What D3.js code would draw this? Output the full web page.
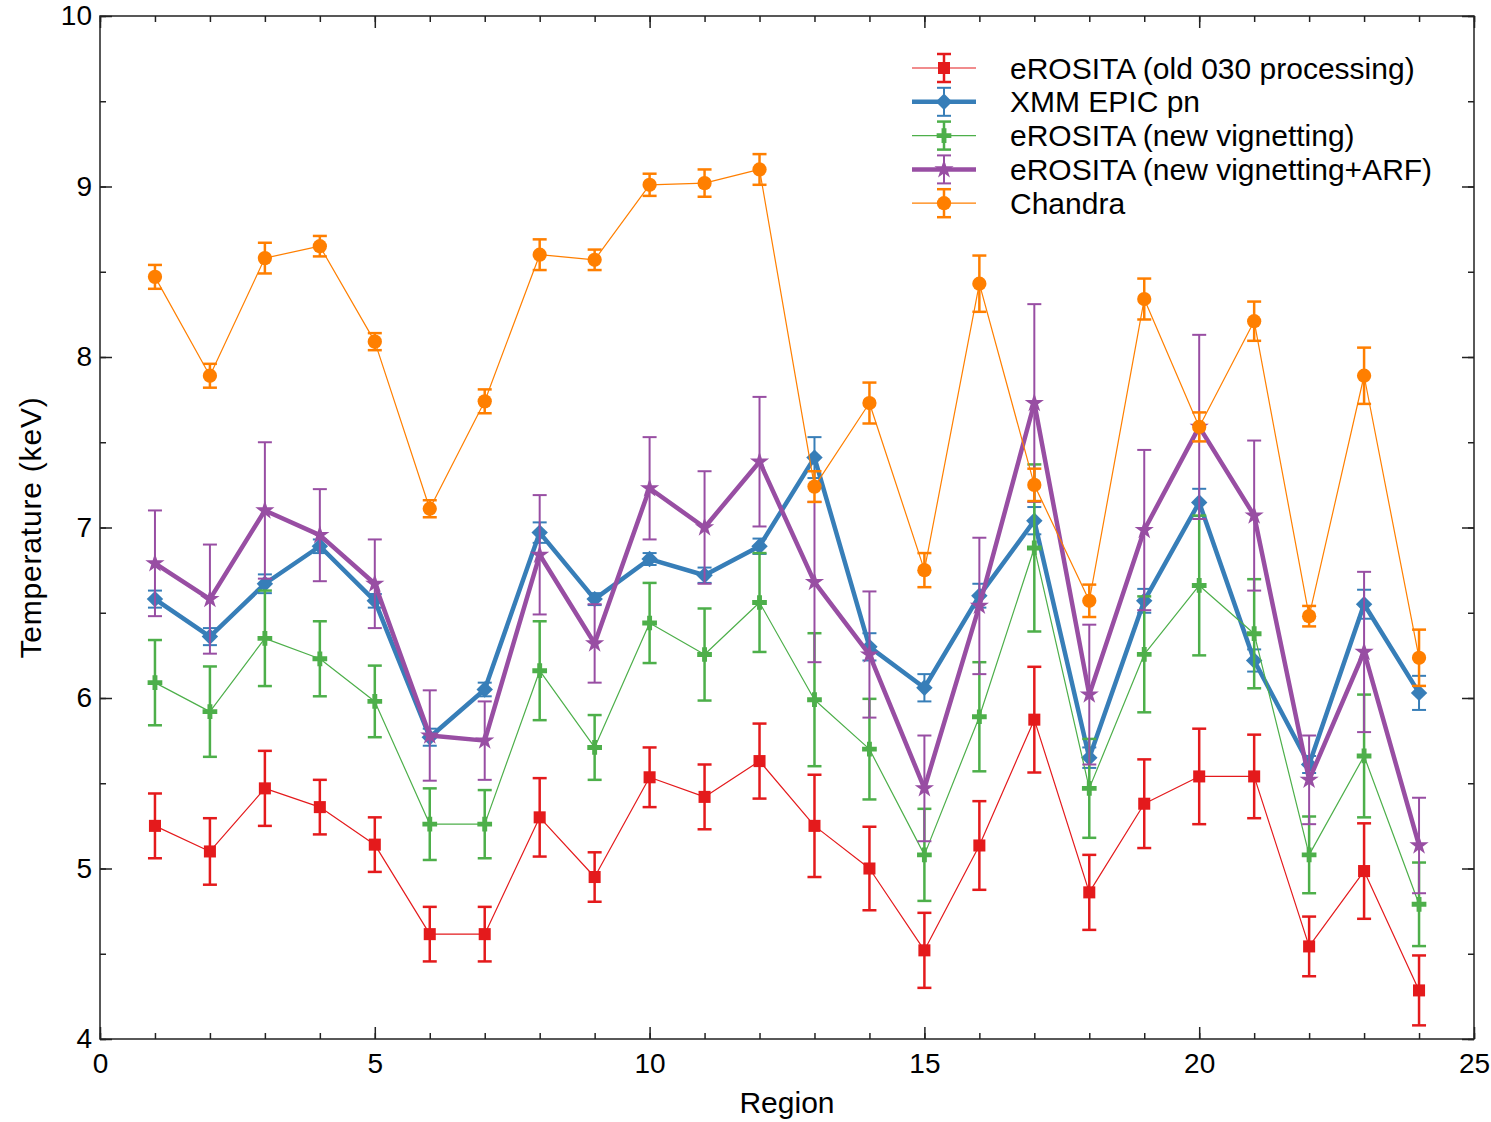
<!DOCTYPE html>
<html>
<head>
<meta charset="utf-8">
<script src="https://cdn.jsdelivr.net/npm/d3@7"></script>
<style>
  body { margin: 0; background: #fff; }
  svg { display: block; font-family: "Liberation Sans", Arial, sans-serif; }
</style>
</head>
<body>
<svg id="chart" width="1491" height="1122"></svg>
<script>
// region numbers
const regions = [1, 2, 3, 4, 5, 6, 7, 8, 9, 10, 11, 12, 13, 14, 15, 16, 17, 18, 19, 20, 21, 22, 23, 24]

// eROSITA (old 030 processing)
const oldT = [5.25, 5.10, 5.47, 5.36, 5.14, 4.615, 4.615, 5.30, 4.95, 5.535, 5.42, 5.63, 5.25, 5.00, 4.52, 5.135, 5.873, 4.86, 5.38, 5.54, 5.54, 4.543, 4.985, 4.285]
const oldErr = [0.19, 0.195, 0.22, 0.16, 0.16, 0.16, 0.16, 0.23, 0.145, 0.175, 0.19, 0.22, 0.30, 0.245, 0.22, 0.26, 0.31, 0.22, 0.26, 0.28, 0.245, 0.175, 0.28, 0.205]

// XMM EPIC pn
const xmmT = [6.58, 6.36, 6.67, 6.89, 6.57, 5.77, 6.05, 6.97, 6.58, 6.815, 6.72, 6.89, 7.41, 6.30, 6.06, 6.60, 7.04, 5.65, 6.57, 7.147, 6.22, 5.61, 6.55, 6.03]
const xmmErr = [0.05, 0.05, 0.055, 0.04, 0.04, 0.05, 0.04, 0.06, 0.035, 0.035, 0.045, 0.045, 0.12, 0.08, 0.08, 0.07, 0.08, 0.06, 0.07, 0.08, 0.065, 0.05, 0.085, 0.1]

// eROSITA (new vignetting)
const newT = [6.09, 5.92, 6.35, 6.23, 5.98, 5.26, 5.26, 6.16, 5.71, 6.44, 6.255, 6.56, 5.99, 5.70, 5.08, 5.89, 6.88, 5.47, 6.256, 6.66, 6.377, 5.08, 5.66, 4.79]
const newErr = [0.25, 0.265, 0.28, 0.22, 0.21, 0.21, 0.2, 0.29, 0.19, 0.235, 0.27, 0.29, 0.39, 0.295, 0.27, 0.32, 0.49, 0.29, 0.34, 0.41, 0.32, 0.225, 0.36, 0.245]

// eROSITA (new vignetting+ARF)
const arfT = [6.79, 6.58, 7.10, 6.955, 6.67, 5.78, 5.75, 6.84, 6.32, 7.23, 7.0, 7.386, 6.68, 6.255, 5.47, 6.54, 7.73, 6.02, 6.985, 7.59, 7.07, 5.52, 6.27, 5.135]
const arfErr = [0.31, 0.32, 0.40, 0.27, 0.26, 0.265, 0.23, 0.35, 0.23, 0.3, 0.33, 0.38, 0.47, 0.37, 0.31, 0.4, 0.58, 0.41, 0.47, 0.54, 0.44, 0.26, 0.47, 0.28]

// Chandra
const chandraT = [8.47, 7.89, 8.58, 8.65, 8.09, 7.11, 7.74, 8.60, 8.57, 9.01, 9.02, 9.10, 7.24, 7.73, 6.75, 8.43, 7.25, 6.57, 8.34, 7.59, 8.21, 6.48, 7.89, 6.236]
const chandraErr = [0.07, 0.07, 0.09, 0.06, 0.05, 0.05, 0.07, 0.09, 0.06, 0.065, 0.08, 0.09, 0.09, 0.12, 0.10, 0.165, 0.095, 0.095, 0.12, 0.085, 0.115, 0.06, 0.165, 0.165]

const xTicks = [0, 5, 10, 15, 20, 25]
const yTicks = [4, 5, 6, 7, 8, 9, 10]

let series = [
  { name: 'eROSITA (old 030 processing)', t: oldT, err: oldErr, color: '#e41a1c', lw: 1.2, ew: 2.5, symbol: d3.symbolSquare, size: 145, rot: 0 },
  { name: 'XMM EPIC pn', t: xmmT, err: xmmErr, color: '#377eb8', lw: 4.5, ew: 2, symbol: d3.symbolSquare, size: 135, rot: 45 },
  { name: 'eROSITA (new vignetting)', t: newT, err: newErr, color: '#4daf4a', lw: 1.2, ew: 2.5, symbol: d3.symbolCross, size: 120, rot: 0 },
  { name: 'eROSITA (new vignetting+ARF)', t: arfT, err: arfErr, color: '#984ea3', lw: 4.5, ew: 2, symbol: d3.symbolStar, size: 115, rot: 0 },
  { name: 'Chandra', t: chandraT, err: chandraErr, color: '#ff7f00', lw: 1.2, ew: 2.5, symbol: d3.symbolCircle, size: 160, rot: 0 }
]

let margin = { left: 100, right: 17, top: 16, bottom: 83 }
let width = 1491
let height = 1122

let svg = d3.select('#chart')

let x = d3.scaleLinear().domain([0, 25]).range([margin.left, width - margin.right])
let y = d3.scaleLinear().domain([4, 10]).range([height - margin.bottom, margin.top])

let capHalf = 7

// ticks on all four sides, pointing inward
function addAxis(axis, transform, labels) {
  let g = svg.append('g').attr('transform', transform).call(axis)
  g.select('.domain').remove()
  g.selectAll('.tick line').attr('stroke', '#222').attr('stroke-width', 1.5)
  g.selectAll('text').attr('font-size', 28).attr('fill', '#000')
  if (!labels) g.selectAll('text').remove()
  return g
}

let minorX = d3.range(0, 26, 1)
let minorY = d3.range(4, 10.01, 0.5)

addAxis(d3.axisBottom(x).tickValues(minorX).tickSize(-6).tickFormat(''), `translate(0,${y(4)})`, false)
addAxis(d3.axisTop(x).tickValues(minorX).tickSize(-6).tickFormat(''), `translate(0,${y(10)})`, false)
addAxis(d3.axisLeft(y).tickValues(minorY).tickSize(-6).tickFormat(''), `translate(${x(0)},0)`, false)
addAxis(d3.axisRight(y).tickValues(minorY).tickSize(-6).tickFormat(''), `translate(${x(25)},0)`, false)

addAxis(d3.axisBottom(x).tickValues(xTicks).tickSize(-12).tickPadding(14).tickFormat(d3.format('d')), `translate(0,${y(4)})`, true)
addAxis(d3.axisTop(x).tickValues(xTicks).tickSize(-12), `translate(0,${y(10)})`, false)
addAxis(d3.axisLeft(y).tickValues(yTicks).tickSize(-12).tickPadding(8).tickFormat(d3.format('d')), `translate(${x(0)},0)`, true)
addAxis(d3.axisRight(y).tickValues(yTicks).tickSize(-12), `translate(${x(25)},0)`, false)

svg.append('rect')
  .attr('x', x(0)).attr('y', y(10))
  .attr('width', x(25) - x(0)).attr('height', y(4) - y(10))
  .attr('fill', 'none').attr('stroke', '#222').attr('stroke-width', 1.5)

svg.append('text')
  .attr('x', (x(0) + x(25)) / 2).attr('y', 1113)
  .attr('text-anchor', 'middle').attr('font-size', 30)
  .text('Region')

svg.append('text')
  .attr('transform', `translate(41,${(y(4) + y(10)) / 2}) rotate(-90)`)
  .attr('text-anchor', 'middle').attr('font-size', 30).attr('letter-spacing', 0.8)
  .text('Temperature (keV)')

let line = d3.line().x(d => x(d.r)).y(d => y(d.t))

series.forEach(s => {
  let pts = regions.map((r, i) => ({ r: r, t: s.t[i], e: s.err[i] }))
  let g = svg.append('g').attr('class', 'series')

  g.append('path')
    .datum(pts)
    .attr('d', line)
    .attr('fill', 'none')
    .attr('stroke', s.color)
    .attr('stroke-width', s.lw)
    .attr('stroke-linejoin', 'round')

  let eb = g.append('g').selectAll('g').data(pts).enter().append('g')
    .attr('stroke', s.color).attr('stroke-width', s.ew)
  eb.append('line')
    .attr('x1', d => x(d.r)).attr('x2', d => x(d.r))
    .attr('y1', d => y(d.t - d.e)).attr('y2', d => y(d.t + d.e))
  eb.append('line')
    .attr('x1', d => x(d.r) - capHalf).attr('x2', d => x(d.r) + capHalf)
    .attr('y1', d => y(d.t + d.e)).attr('y2', d => y(d.t + d.e))
  eb.append('line')
    .attr('x1', d => x(d.r) - capHalf).attr('x2', d => x(d.r) + capHalf)
    .attr('y1', d => y(d.t - d.e)).attr('y2', d => y(d.t - d.e))

  g.append('g').selectAll('path').data(pts).enter().append('path')
    .attr('d', d3.symbol().type(s.symbol).size(s.size))
    .attr('transform', d => `translate(${x(d.r)},${y(d.t)}) rotate(${s.rot})`)
    .attr('fill', s.color)
})

// legend
let legend = svg.append('g').attr('class', 'legend')
series.forEach((s, i) => {
  let ly = 68 + i * 33.8
  let row = legend.append('g').attr('transform', `translate(0,${ly})`)
  row.append('line').attr('x1', 912).attr('x2', 976).attr('y1', 0).attr('y2', 0)
    .attr('stroke', s.color).attr('stroke-width', s.lw)
  row.append('line').attr('x1', 944).attr('x2', 944).attr('y1', -14).attr('y2', 14)
    .attr('stroke', s.color).attr('stroke-width', s.ew)
  row.append('line').attr('x1', 944 - capHalf).attr('x2', 944 + capHalf).attr('y1', -14).attr('y2', -14)
    .attr('stroke', s.color).attr('stroke-width', s.ew)
  row.append('line').attr('x1', 944 - capHalf).attr('x2', 944 + capHalf).attr('y1', 14).attr('y2', 14)
    .attr('stroke', s.color).attr('stroke-width', s.ew)
  row.append('path')
    .attr('d', d3.symbol().type(s.symbol).size(s.size))
    .attr('transform', `translate(944,0) rotate(${s.rot})`)
    .attr('fill', s.color)
  row.append('text').attr('x', 1010).attr('y', 0).attr('dy', '0.35em')
    .attr('font-size', 30).text(s.name)
})
</script>
</body>
</html>
